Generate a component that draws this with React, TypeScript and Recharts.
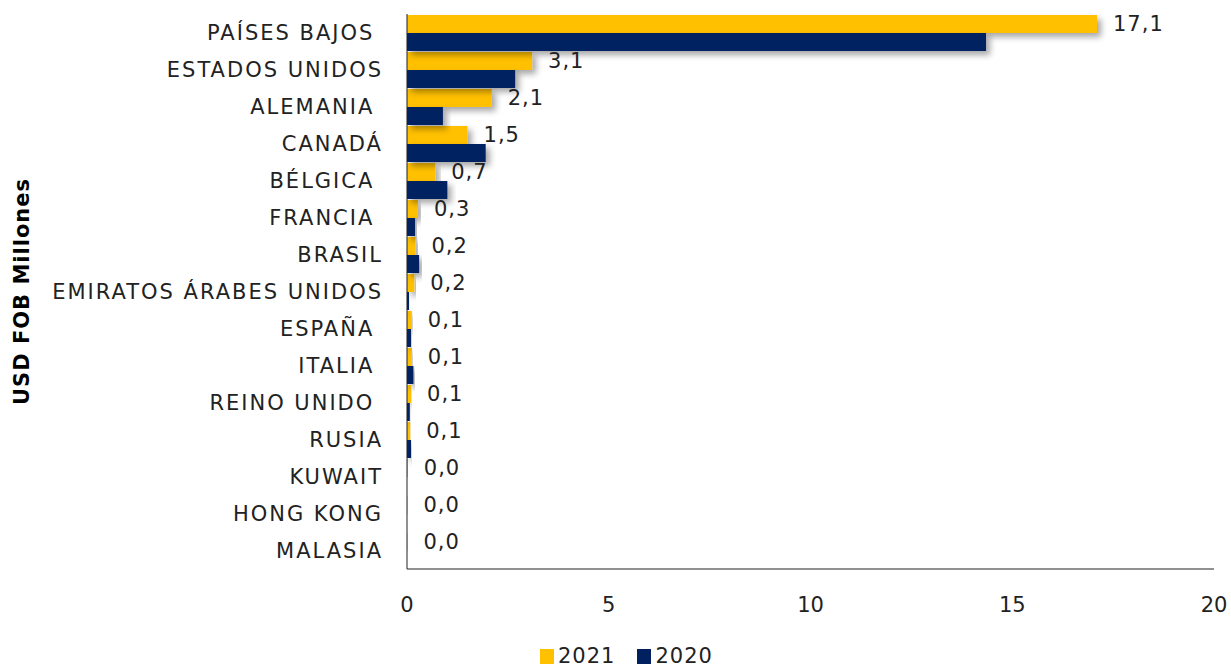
import {
  BarChart,
  Bar,
  XAxis,
  YAxis,
  LabelList,
} from 'recharts';

const countries = [
  'PAÍSES BAJOS ',
  'ESTADOS UNIDOS',
  'ALEMANIA ',
  'CANADÁ',
  'BÉLGICA ',
  'FRANCIA ',
  'BRASIL',
  'EMIRATOS ÁRABES UNIDOS',
  'ESPAÑA ',
  'ITALIA ',
  'REINO UNIDO ',
  'RUSIA',
  'KUWAIT',
  'HONG KONG',
  'MALASIA',
];
const values2021 = [17.1, 3.1, 2.1, 1.5, 0.7, 0.27, 0.21, 0.18, 0.12, 0.12, 0.1, 0.08, 0.02, 0.01, 0.01];
const values2020 = [14.35, 2.68, 0.89, 1.95, 1.0, 0.2, 0.3, 0.05, 0.1, 0.16, 0.07, 0.1, 0.0, 0.0, 0.0];
const xTicks = [0, 5, 10, 15, 20];

const data = countries.map((name, i) => ({
  name,
  y2021: values2021[i],
  y2020: values2020[i],
}));

const FONT = '"DejaVu Sans", sans-serif';
const GOLD = '#FFC000';
const NAVY = '#002060';

const fmt = (v: any) => Number(v).toFixed(1).replace('.', ',');

const CountryTick = (props: any) => {
  const { y, payload } = props;
  return (
    <text
      x={383}
      y={y}
      dy="0.35em"
      textAnchor="end"
      fontSize={21}
      letterSpacing={2}
      fill="#222"
      fontFamily={FONT}
      style={{ whiteSpace: 'pre' }}
    >
      {payload.value}
    </text>
  );
};

export default function App() {
  return (
    <div style={{ position: 'absolute', left: 0, top: 0, width: 1231, height: 669, background: '#fff' }}>
      <svg width={0} height={0} style={{ position: 'absolute' }}>
        <defs>
          <filter id="barShadow" x="-10%" y="-30%" width="130%" height="190%">
            <feDropShadow dx={4} dy={4} stdDeviation={3} floodColor="#000" floodOpacity={0.35} />
          </filter>
        </defs>
      </svg>
      <BarChart
        width={1231}
        height={669}
        data={data}
        layout="vertical"
        margin={{ top: 14, right: 17, bottom: 60, left: 0 }}
        barCategoryGap={1}
        barGap={0}
      >
        <XAxis
          type="number"
          domain={[0, 20]}
          ticks={xTicks}
          tickLine={false}
          stroke="#222"
          height={40}
          tickMargin={22}
          tick={{ fontSize: 21, fill: '#222', fontFamily: FONT }}
        />
        <YAxis
          type="category"
          dataKey="name"
          width={407}
          tickLine={false}
          stroke="#222"
          tick={<CountryTick />}
          interval={0}
          label={({ viewBox }: any) => (
            <text
              x={22}
              y={viewBox.y + viewBox.height / 2}
              transform={`rotate(-90, 22, ${viewBox.y + viewBox.height / 2})`}
              textAnchor="middle"
              dominantBaseline="central"
              fontSize={21}
              letterSpacing={1}
              fontWeight="bold"
              fill="#000"
              fontFamily={FONT}
            >
              USD FOB Millones
            </text>
          )}
        />
        <Bar dataKey="y2021" name="2021" fill={GOLD} isAnimationActive={false} filter="url(#barShadow)">
          <LabelList
            dataKey="y2021"
            position="right"
            offset={16}
            formatter={fmt}
            style={{ fontSize: 21, fill: '#222', fontFamily: FONT, letterSpacing: 1 }}
          />
        </Bar>
        <Bar dataKey="y2020" name="2020" fill={NAVY} isAnimationActive={false} filter="url(#barShadow)" />
      </BarChart>
      <div
        style={{
          position: 'absolute',
          top: 644,
          left: 540,
          display: 'flex',
          gap: 22,
          fontFamily: FONT,
          fontSize: 21,
          letterSpacing: 1,
          color: '#222',
        }}
      >
        <span style={{ display: 'flex', alignItems: 'center', gap: 4 }}>
          <span style={{ width: 14, height: 15, background: GOLD, display: 'inline-block' }} />
          2021
        </span>
        <span style={{ display: 'flex', alignItems: 'center', gap: 4 }}>
          <span style={{ width: 14, height: 15, background: NAVY, display: 'inline-block' }} />
          2020
        </span>
      </div>
    </div>
  );
}
